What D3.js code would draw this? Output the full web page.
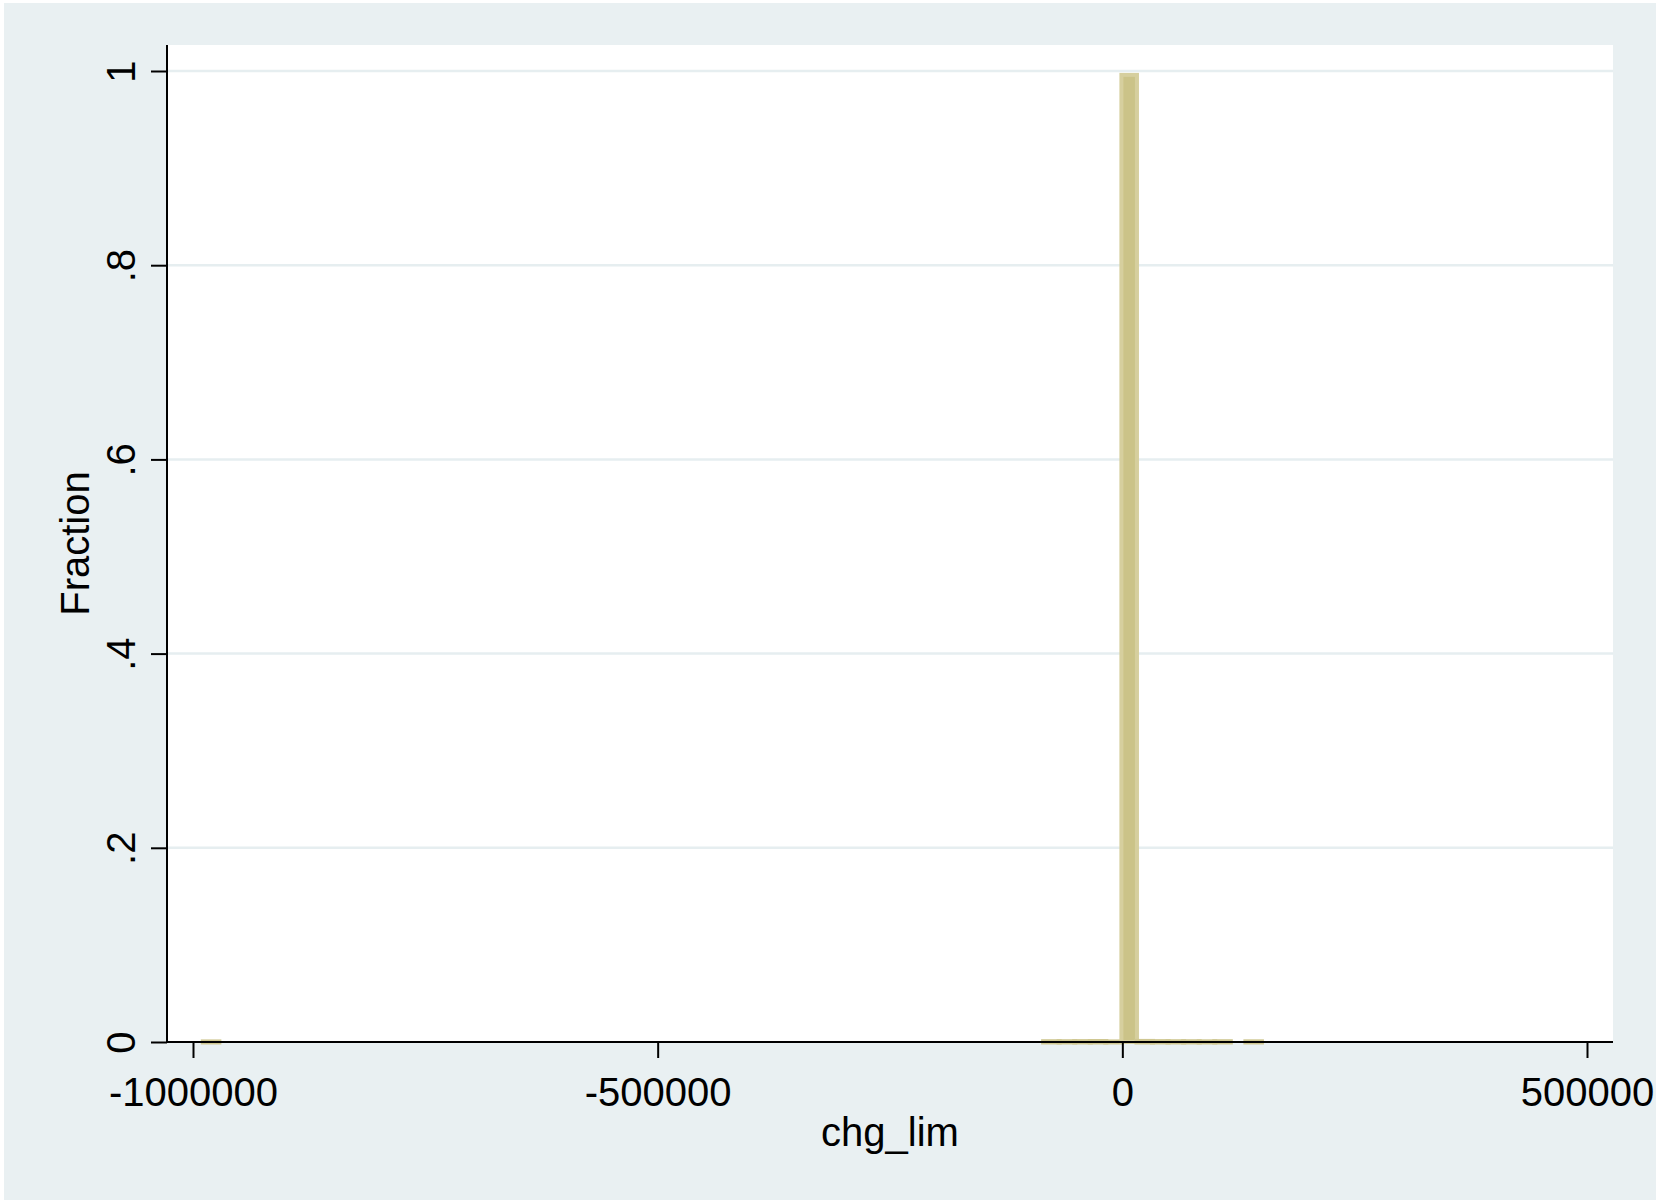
<!DOCTYPE html>
<html>
<head>
<meta charset="utf-8">
<script src="https://cdn.jsdelivr.net/npm/d3@7"></script>
<style>
  html, body { margin: 0; padding: 0; background: #ffffff; }
  svg { display: block; }
  text { font-family: "Liberation Sans", Arial, sans-serif; fill: #000; }
</style>
</head>
<body>
<script>
// Histogram of chg_lim: bins of equal width starting at the sample minimum
const binMin = -988900;
const binWidth = 16744;
const binIndex    = [0,      54,     55,     56,     57,     58,     59,    60,     61,     62,     63,     64,     65,     67];
const binFraction = [0.0001, 0.0003, 0.0003, 0.0004, 0.0005, 0.0001, 0.996, 0.0006, 0.0004, 0.0003, 0.0003, 0.0002, 0.0003, 0.0002];

const xTicks = [-1000000, -500000, 0, 500000];
const yTicks = [0, 0.2, 0.4, 0.6, 0.8, 1];
const yTickLabels = ["0", ".2", ".4", ".6", ".8", "1"];
const xTitle = "chg_lim";
const yTitle = "Fraction";

const W = 1671, H = 1202;
const plot = { left: 167, right: 1613, top: 45, bottom: 1042 };

const svg = d3.select("body").append("svg")
  .attr("width", W).attr("height", H);

// outer graph region
svg.append("rect")
  .attr("x", 4).attr("y", 3).attr("width", 1652).attr("height", 1197)
  .attr("fill", "#e9f0f2");

// plot region
svg.append("rect")
  .attr("x", plot.left).attr("y", plot.top)
  .attr("width", plot.right - plot.left).attr("height", plot.bottom - plot.top)
  .attr("fill", "#ffffff");

const x = d3.scaleLinear().domain([-1000000, 500000]).range([193, 1587]);
const y = d3.scaleLinear().domain([0, 1]).range([plot.bottom, 71]);

// horizontal grid lines
svg.append("g").selectAll("line")
  .data(yTicks.filter(d => d > 0))
  .join("line")
  .attr("x1", plot.left).attr("x2", plot.right)
  .attr("y1", d => y(d)).attr("y2", d => y(d))
  .attr("stroke", "#e6eef0").attr("stroke-width", 2.5);

// bars
const bins = binIndex.map((k, i) => ({
  x0: binMin + k * binWidth,
  x1: binMin + (k + 1) * binWidth,
  f: binFraction[i]
}));
svg.append("g").selectAll("rect")
  .data(bins)
  .join("rect")
  .attr("x", d => x(d.x0))
  .attr("width", d => x(d.x1) - x(d.x0))
  .attr("y", d => y(d.f))
  .attr("height", d => y(0) - y(d.f))
  .attr("fill", "#cbc388")
  .attr("stroke", d => d.f > 0.01 ? "#d6cf9e" : "#cfc791")
  .attr("stroke-width", d => d.f > 0.01 ? 4 : 5);

// x axis (plain hyphen for negative numbers)
const fmtX = d => (d < 0 ? "-" : "") + Math.abs(d).toFixed(0);
const xAxis = d3.axisBottom(x)
  .tickValues(xTicks)
  .tickSize(16)
  .tickFormat(fmtX);
const gx = svg.append("g")
  .attr("transform", `translate(0,${plot.bottom})`)
  .call(xAxis);
gx.select(".domain").remove();
gx.selectAll(".tick line").attr("stroke", "#000").attr("stroke-width", 2);
gx.selectAll(".tick text")
  .attr("font-size", 40)
  .attr("font-family", "Liberation Sans, Arial, sans-serif")
  .attr("fill", "#000")
  .attr("dy", null)
  .attr("y", 64);

// y axis
const yAxis = d3.axisLeft(y)
  .tickValues(yTicks)
  .tickSize(16)
  .tickFormat((d, i) => yTickLabels[i]);
const gy = svg.append("g")
  .attr("transform", `translate(${plot.left},0)`)
  .call(yAxis);
gy.select(".domain").remove();
gy.selectAll(".tick line").attr("stroke", "#000").attr("stroke-width", 2);
gy.selectAll(".tick text")
  .attr("font-size", 40)
  .attr("font-family", "Liberation Sans, Arial, sans-serif")
  .attr("fill", "#000")
  .attr("x", null).attr("dy", null)
  .attr("text-anchor", "middle")
  .attr("transform", "translate(-32,0) rotate(-90)");

// axis lines
svg.append("line")
  .attr("x1", plot.left).attr("x2", plot.left)
  .attr("y1", plot.top).attr("y2", plot.bottom + 1)
  .attr("stroke", "#000").attr("stroke-width", 2);
svg.append("line")
  .attr("x1", plot.left - 1).attr("x2", plot.right)
  .attr("y1", plot.bottom).attr("y2", plot.bottom)
  .attr("stroke", "#000").attr("stroke-width", 2);

// axis titles
svg.append("text")
  .attr("x", (plot.left + plot.right) / 2).attr("y", 1146)
  .attr("text-anchor", "middle").attr("font-size", 40)
  .text(xTitle);
svg.append("text")
  .attr("transform", `translate(89,${(plot.top + plot.bottom) / 2}) rotate(-90)`)
  .attr("text-anchor", "middle").attr("font-size", 40)
  .text(yTitle);
</script>
</body>
</html>
